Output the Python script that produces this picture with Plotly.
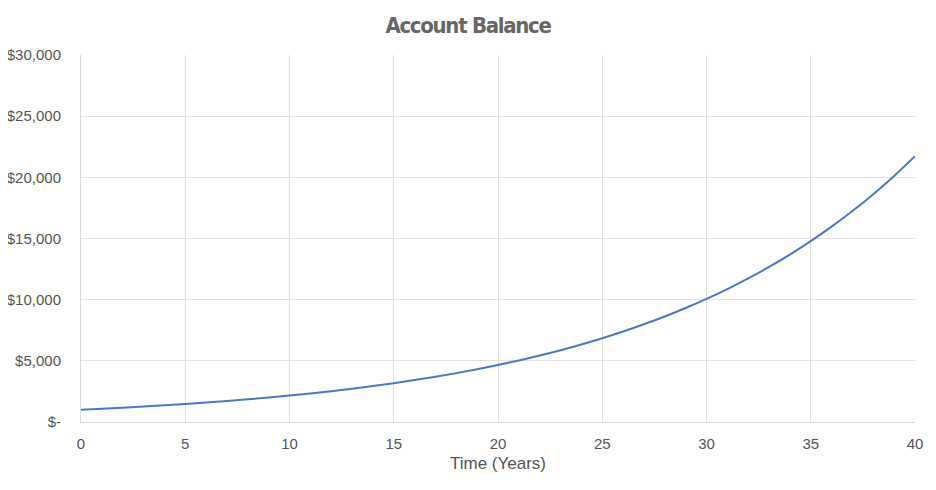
import plotly.graph_objects as go

years = list(range(0, 41))
balance = [1000, 1080, 1166, 1260, 1360, 1469, 1587, 1714, 1851, 1999,
           2159, 2332, 2518, 2720, 2937, 3172, 3426, 3700, 3996, 4316,
           4661, 5034, 5437, 5871, 6341, 6848, 7396, 7988, 8627, 9317,
           10063, 10868, 11737, 12676, 13690, 14785, 15968, 17246, 18625, 20115,
           21725]

y_tick_vals = [0, 5000, 10000, 15000, 20000, 25000, 30000]
y_tick_text = ["$-", "$5,000", "$10,000", "$15,000", "$20,000", "$25,000", "$30,000"]
x_tick_vals = [0, 5, 10, 15, 20, 25, 30, 35, 40]

# page body has an 8px margin, so figure is sized to fit the window
W, H = 920, 474
OFF = 8

fig = go.Figure()
fig.add_trace(go.Scatter(
    x=years, y=balance, mode="lines",
    line=dict(color="#4a78cf", width=2, shape="spline"),
    showlegend=False, hoverinfo="x+y"))

fig.update_layout(
    width=W, height=H,
    margin=dict(l=81 - OFF, r=W + OFF - 915, t=55 - OFF, b=H + OFF - 422, autoexpand=False),
    paper_bgcolor="white", plot_bgcolor="white",
    title=dict(text='<span style="font-stretch:condensed;letter-spacing:-1.3px"><b>Account Balance</b></span>',
               x=0.5, xanchor="center",
               y=1 - (25 - OFF) / H, yanchor="middle",
               font=dict(family="DejaVu Sans Condensed, DejaVu Sans, sans-serif",
                         size=22, color="#666666")),
    font=dict(family="Liberation Sans, Arial, sans-serif", size=15, color="#555555"),
    xaxis=dict(range=[0, 40], tickvals=x_tick_vals, showgrid=True, automargin=False,
               gridcolor="#dedede", gridwidth=1, zeroline=False,
               showline=True, linecolor="#d9d9d9", linewidth=1, mirror=False,
               ticks="outside", ticklen=8, tickcolor="rgba(0,0,0,0)",
               tickfont=dict(size=15, color="#555555"),
               title=dict(text="Time (Years)", font=dict(size=17, color="#555555"), standoff=6)),
    yaxis=dict(range=[0, 30000], tickvals=y_tick_vals, ticktext=y_tick_text,
               showgrid=True, gridcolor="#e3e3e3", gridwidth=1, zeroline=False, automargin=False,
               showline=True, linecolor="#d9d9d9", linewidth=1,
               ticks="outside", ticklen=16, tickcolor="rgba(0,0,0,0)",
               tickfont=dict(size=15, color="#555555")),
)

fig.write_html("out.html")
